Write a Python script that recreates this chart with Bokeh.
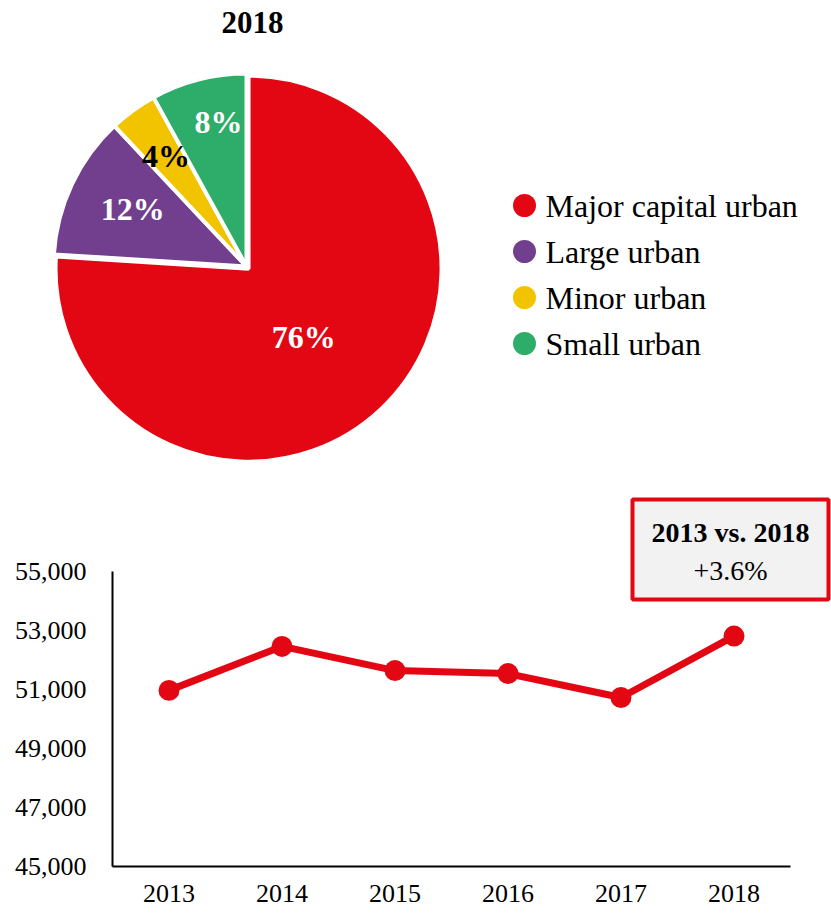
import math
from bokeh.plotting import figure
from bokeh.models import Range1d, FixedTicker, NumeralTickFormatter, Label, BoxAnnotation, ColumnDataSource
from bokeh.layouts import column, row
from bokeh.embed import file_html
from bokeh.resources import INLINE
from bokeh.core.properties import value

# ---------------- data ----------------
pie_title = "2018"
categories = ["Major capital urban", "Large urban", "Minor urban", "Small urban"]
shares = [76, 12, 4, 8]
share_labels = ["76%", "12%", "4%", "8%"]

years = [2013, 2014, 2015, 2016, 2017, 2018]
values = [50970, 52460, 51640, 51540, 50730, 52810]
y_ticks = [45000, 47000, 49000, 51000, 53000, 55000]
compare_title = "2013 vs. 2018"
compare_value = "+3.6%"

# ---------------- styles ----------------
colors = ["#E30613", "#723F8F", "#F2C400", "#2EAD6A"]
label_colors = ["white", "white", "black", "white"]
label_radius = [0.47, 0.66, 0.71, 0.765]
label_nudge_deg = [-4, -1.5, 0, -3.5]
explode = [3, 0, 0, 0]
FONT = "Liberation Serif"
RED = "#E30613"

W = 831
PIE_H = 476
LINE_H = 437

# ---------------- pie ----------------
pie = figure(width=W, height=PIE_H, x_range=Range1d(0, W), y_range=Range1d(0, PIE_H),
             output_backend="svg", toolbar_location=None, min_border=0,
             min_border_left=0, min_border_right=0, min_border_top=0, min_border_bottom=0,
             x_axis_type=None, y_axis_type=None)
pie.grid.visible = False
pie.outline_line_color = None

cx, cy, R = 246, PIE_H - 266, 193
total = float(sum(shares))
start = math.pi / 2
starts, ends, xs, ys, lx, ly = [], [], [], [], [], []
for i, s in enumerate(shares):
    end = start - s / total * 2 * math.pi
    mid = (start + end) / 2
    starts.append(start)
    ends.append(end)
    xs.append(cx + explode[i] * math.cos(mid))
    ys.append(cy + explode[i] * math.sin(mid))
    a = mid + math.radians(label_nudge_deg[i])
    lx.append(cx + label_radius[i] * R * math.cos(a))
    ly.append(cy + label_radius[i] * R * math.sin(a))
    start = end

src = ColumnDataSource(dict(x=xs, y=ys, start=starts, end=ends, color=colors,
                            lx=lx, ly=ly, lab=share_labels, lc=label_colors))
pie.wedge(x="x", y="y", radius=R, start_angle="start", end_angle="end", direction="clock",
          fill_color="color", line_color="white", line_width=4, source=src)
pie.text(x="lx", y="ly", text="lab", text_color="lc", text_align="center",
         text_baseline="middle", text_font=value(FONT), text_font_style="bold",
         text_font_size="32px", source=src)

pie.text(x=[252], y=[PIE_H - 22], text=[pie_title], text_align="center", text_baseline="middle",
         text_font=value(FONT), text_font_style="bold", text_font_size="31px", text_color="black")

leg_y = [PIE_H - (205 + i * 46) for i in range(len(categories))]
pie.scatter(x=[524] * len(categories), y=leg_y, size=23, color=colors, line_color=None)
pie.text(x=[545] * len(categories), y=leg_y, text=categories, text_align="left",
         text_baseline="middle", text_font=value(FONT), text_font_size="32px", text_color="black")

# ---------------- line ----------------
PX_PER_YEAR = 113.0
PX_PER_UNIT = 295.0 / (y_ticks[-1] - y_ticks[0])
FR_LEFT, FR_RIGHT, FR_TOP, FR_BOTTOM = 108, W, 495, 868   # page pixels
AX_X_PX, AX_Y_PX = 112, 866                                 # where axis lines sit

x0 = years[0] - 0.5 - (AX_X_PX - FR_LEFT) / PX_PER_YEAR
x1 = x0 + (FR_RIGHT - FR_LEFT) / PX_PER_YEAR
y0 = y_ticks[0] - (FR_BOTTOM - AX_Y_PX) / PX_PER_UNIT
y1 = y0 + (FR_BOTTOM - FR_TOP) / PX_PER_UNIT


def px2x(px):
    return x0 + (px - FR_LEFT) / PX_PER_YEAR


def py2y(py):
    return y0 + (FR_BOTTOM - py) / PX_PER_UNIT


lf = figure(width=W, height=LINE_H, x_range=Range1d(x0, x1), y_range=Range1d(y0, y1),
            output_backend="svg", toolbar_location=None,
            min_border_left=FR_LEFT, min_border_right=W - FR_RIGHT,
            min_border_top=FR_TOP - PIE_H, min_border_bottom=PIE_H + LINE_H - FR_BOTTOM)
lf.grid.visible = False
lf.outline_line_color = None

ax_left = years[0] - 0.5
ax_right = years[-1] + 0.5
lf.segment(x0=[ax_left, ax_left], y0=[y_ticks[0], y_ticks[0]],
           x1=[ax_left, ax_right], y1=[y_ticks[-1], y_ticks[0]],
           line_color="black", line_width=2)

lf.line(years, values, line_color=RED, line_width=7)
lf.scatter(years, values, size=21, color=RED, line_color=None)

lf.xaxis.ticker = FixedTicker(ticks=years)
lf.yaxis.ticker = FixedTicker(ticks=y_ticks)
lf.yaxis.formatter = NumeralTickFormatter(format="0,0")
for ax in (lf.xaxis, lf.yaxis):
    ax.axis_line_color = None
    ax.major_tick_in = 0
    ax.major_tick_out = 0
    ax.minor_tick_in = 0
    ax.minor_tick_out = 0
    ax.major_label_text_font = FONT
    ax.major_label_text_font_size = "26px"
    ax.major_label_text_color = "black"
lf.xaxis.major_label_standoff = 16
lf.yaxis.major_label_standoff = 22

lf.add_layout(BoxAnnotation(left=px2x(632), right=px2x(828), top=py2y(499), bottom=py2y(599),
                            fill_color="#F2F2F2", fill_alpha=1.0,
                            line_color=RED, line_width=4, line_alpha=1.0))
lf.add_layout(Label(x=px2x(730), y=py2y(532), text=compare_title, text_align="center",
                    text_baseline="middle", text_font=FONT, text_font_style="bold",
                    text_font_size="28px", text_color="black"))
lf.add_layout(Label(x=px2x(730), y=py2y(570), text=compare_value, text_align="center",
                    text_baseline="middle", text_font=FONT, text_font_size="28px",
                    text_color="black"))

layout = column(row(pie), row(lf))
open("out.html", "w").write(file_html(layout, INLINE))
